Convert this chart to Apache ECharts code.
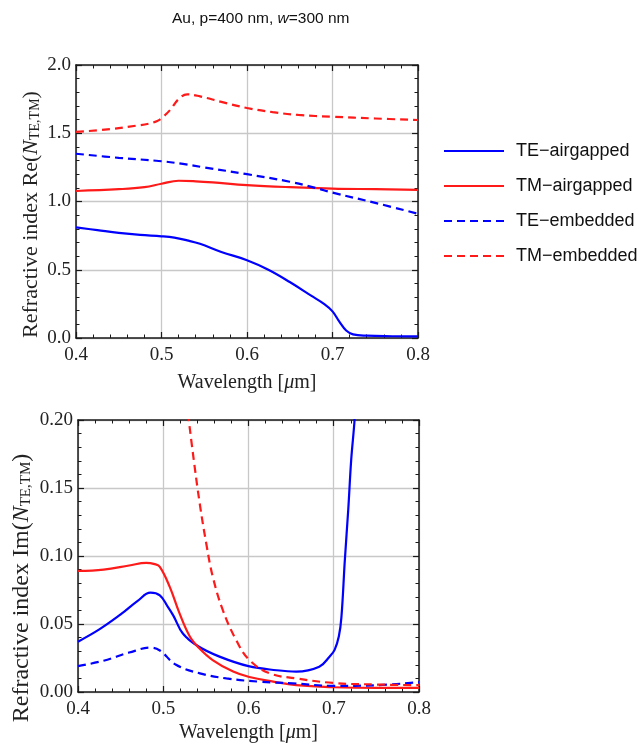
<!DOCTYPE html>
<html><head><meta charset="utf-8">
<script src="https://cdn.jsdelivr.net/npm/echarts@6/dist/echarts.min.js"></script>
<style>html,body{margin:0;padding:0;background:#fff}#c{width:642px;height:755px}</style>
</head><body><div id="c"></div>
<script>
// ---- data: Re(N) (top panel) ----
const reTEair = [[0.40,0.81],[0.425,0.79],[0.45,0.77],[0.475,0.755],[0.50,0.745],[0.515,0.735],[0.53,0.715],[0.545,0.69],[0.57,0.63],[0.60,0.57],[0.625,0.50],[0.65,0.41],[0.675,0.31],[0.69,0.25],[0.70,0.195],[0.708,0.12],[0.716,0.055],[0.724,0.027],[0.74,0.017],[0.77,0.013],[0.80,0.012]];
const reTMair = [[0.40,1.077],[0.45,1.09],[0.48,1.105],[0.50,1.13],[0.52,1.152],[0.54,1.148],[0.56,1.14],[0.60,1.12],[0.65,1.105],[0.70,1.095],[0.75,1.09],[0.80,1.085]];
const reTEemb = [[0.40,1.35],[0.45,1.32],[0.50,1.295],[0.525,1.275],[0.55,1.25],[0.60,1.20],[0.65,1.145],[0.68,1.10],[0.70,1.065],[0.75,0.99],[0.80,0.91]];
const reTMemb = [[0.40,1.51],[0.44,1.53],[0.47,1.555],[0.485,1.57],[0.495,1.59],[0.50,1.61],[0.51,1.67],[0.52,1.75],[0.53,1.785],[0.545,1.77],[0.57,1.73],[0.60,1.685],[0.63,1.655],[0.66,1.634],[0.70,1.621],[0.75,1.608],[0.80,1.597]];
// ---- data: Im(N) (bottom panel) ----
const imTEair = [[0.40,0.037],[0.425,0.046],[0.45,0.057],[0.47,0.067],[0.485,0.073],[0.496,0.071],[0.505,0.063],[0.512,0.056],[0.523,0.043],[0.54,0.034],[0.566,0.026],[0.60,0.019],[0.633,0.016],[0.656,0.015],[0.683,0.0186],[0.695,0.026],[0.701,0.031],[0.706,0.041],[0.709,0.055],[0.713,0.097],[0.717,0.134],[0.7205,0.171],[0.7244,0.20],[0.73,0.26]];
const imTMair = [[0.40,0.089],[0.43,0.090],[0.46,0.093],[0.48,0.095],[0.49,0.094],[0.496,0.092],[0.5075,0.0775],[0.519,0.058],[0.531,0.041],[0.541,0.033],[0.558,0.0235],[0.582,0.015],[0.601,0.011],[0.629,0.0076],[0.656,0.005],[0.70,0.0035],[0.75,0.003],[0.80,0.003]];
const imTEemb = [[0.40,0.019],[0.43,0.023],[0.46,0.029],[0.485,0.0326],[0.496,0.0305],[0.515,0.020],[0.543,0.0137],[0.574,0.010],[0.613,0.0076],[0.652,0.0064],[0.70,0.0045],[0.75,0.005],[0.80,0.0072]];
const imTMemb = [[0.529,0.205],[0.5348,0.1755],[0.5427,0.139],[0.5505,0.109],[0.558,0.085],[0.57,0.060],[0.5857,0.038],[0.601,0.0235],[0.625,0.0137],[0.656,0.010],[0.70,0.0066],[0.75,0.0055],[0.80,0.005]];

const seriesNames = ['TE\u2212airgapped','TM\u2212airgapped','TE\u2212embedded','TM\u2212embedded'];

const SERIF = 'Liberation Serif';
const frame = '#1a1a1a';
const gridCol = '#c8c8c8';

function xAx(gi, pos, nameGap){
  const main = pos === 'bottom';
  return {
    type:'value', gridIndex:gi, position:pos, min:0.4, max:0.8, interval:0.1,
    axisLine:{show:true, onZero:false, lineStyle:{color:frame, width:1.5}},
    axisTick:{show:true, inside:true, length:6, lineStyle:{color:frame, width:1.2}},
    minorTick:{show:true, splitNumber:5, length:3.5, lineStyle:{color:frame, width:1}},
    splitLine:{show:main, lineStyle:{color:gridCol, width:1.3}},
    axisLabel:{show:main, margin:8, color:'#222', fontFamily:SERIF, fontSize:19, formatter:v=>v.toFixed(1)},
    name: main ? '{a|Wavelength [}{m|\u03bc}{a|m]}' : '',
    nameLocation:'middle', nameGap:nameGap,
    nameTextStyle:{color:'#222', fontFamily:SERIF, fontSize:20,
      rich:{a:{fontFamily:SERIF,fontSize:20,color:'#222'}, m:{fontFamily:SERIF,fontSize:20,fontStyle:'italic',color:'#222'}}}
  };
}
function yAx(gi, pos, max, interval, dec, nameTxt, nameFs, nameGap, shift){
  const main = pos === 'left';
  return {
    type:'value', gridIndex:gi, position:pos, min:0, max:max, interval:interval,
    axisLine:{show:true, onZero:false, lineStyle:{color:frame, width:1.5}},
    axisTick:{show:true, inside:true, length:6, lineStyle:{color:frame, width:1.2}},
    minorTick:{show:true, splitNumber:5, length:3.5, lineStyle:{color:frame, width:1}},
    splitLine:{show:main, lineStyle:{color:gridCol, width:1.3}},
    axisLabel:{show:main, margin:5, color:'#222', fontFamily:SERIF, fontSize:19, formatter:v=>v.toFixed(dec)},
    name: main ? '{a|Refractive index '+nameTxt+'(}{n|N}{s|TE,TM}{a|)}' : '',
    nameLocation:'middle', nameGap:nameGap, nameMoveOverlap:false,
    nameTextStyle:{color:'#222', fontFamily:SERIF, fontSize:nameFs, padding:[0,shift,0,0],
      rich:{
        a:{fontFamily:SERIF,fontSize:nameFs,color:'#222',verticalAlign:'bottom',lineHeight:nameFs+2},
        n:{fontFamily:SERIF,fontSize:nameFs,fontStyle:'italic',color:'#222',verticalAlign:'bottom',lineHeight:nameFs+2},
        s:{fontFamily:SERIF,fontSize:Math.round(nameFs*0.62),color:'#222',verticalAlign:'bottom',lineHeight:Math.round(nameFs*0.62)}
      }}
  };
}

const colors = ['#0000ff','#ff1a1a','#0000ff','#ff1a1a'];
const dashes = ['solid','solid',[8,5],[8,5]];
function ser(name, idx, data, gi){
  return {
    name:name, type:'line', xAxisIndex:gi*2, yAxisIndex:gi*2, data:data,
    showSymbol:false, symbol:'none', smooth:0.4, clip:true,
    lineStyle:{color:colors[idx], width:2.2, type:dashes[idx]},
    itemStyle:{color:colors[idx]}, z:3
  };
}

const chart = echarts.init(document.getElementById('c'), null, {renderer:'canvas'});
chart.setOption({
  animation:false,
  backgroundColor:'#ffffff',
  title:{text:'Au, p=400 nm, {i|w}=300 nm', left:167, top:6,
    textStyle:{fontFamily:'Liberation Sans', fontWeight:'normal', fontSize:15.5, color:'#111',
      rich:{i:{fontFamily:'Liberation Sans', fontStyle:'italic', fontSize:15.5, color:'#111'}}}},
  legend:{
    data:seriesNames, orient:'vertical', left:438, top:135,
    itemWidth:60, itemHeight:20, itemGap:13,
    itemStyle:{opacity:0, borderWidth:0},
    textStyle:{fontFamily:'Liberation Sans', fontSize:18, color:'#111', padding:[0,0,0,7], lineHeight:22}
  },
  grid:[
    {left:76, top:65, width:342, height:273, containLabel:false, outerBoundsMode:'none'},
    {left:78, top:420, width:341, height:272, containLabel:false, outerBoundsMode:'none'}
  ],
  xAxis:[ xAx(0,'bottom',35), xAx(0,'top',0), xAx(1,'bottom',31), xAx(1,'top',0) ],
  yAxis:[
    yAx(0,'left',2.0,0.5,1,'Re',22,34,26), yAx(0,'right',2.0,0.5,1,'',19,0,0),
    yAx(1,'left',0.20,0.05,2,'Im',24,44,64), yAx(1,'right',0.20,0.05,2,'',19,0,0)
  ],
  series:[
    ser(seriesNames[0],0,reTEair,0), ser(seriesNames[1],1,reTMair,0),
    ser(seriesNames[2],2,reTEemb,0), ser(seriesNames[3],3,reTMemb,0),
    ser(seriesNames[0],0,imTEair,1), ser(seriesNames[1],1,imTMair,1),
    ser(seriesNames[2],2,imTEemb,1), ser(seriesNames[3],3,imTMemb,1)
  ]
});
</script></body></html>
